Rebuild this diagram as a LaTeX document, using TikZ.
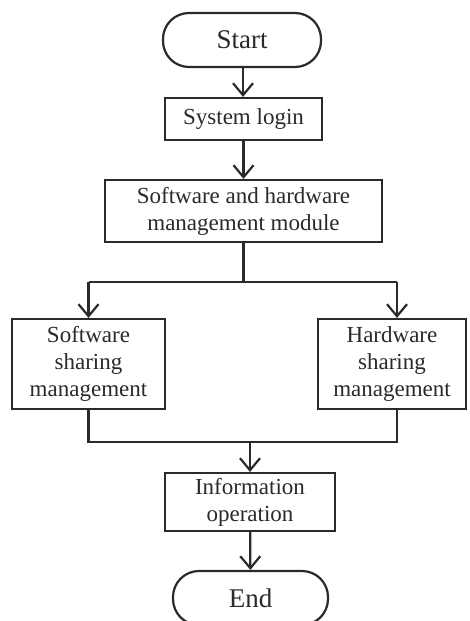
\documentclass[tikz,border=0pt]{standalone}
\usepackage{fontspec}
\setmainfont{Liberation Serif}
\usetikzlibrary{arrows.meta}
\definecolor{ink}{HTML}{2A2A2A}
\tikzset{
  base/.style={draw=ink, line width=2.2pt, text=ink, inner sep=0pt, align=center,
    font=\fontsize{23}{27}\selectfont},
  term/.style={base, rounded corners=26pt, font=\fontsize{27}{30}\selectfont},
  box/.style={base},
  conn/.style={draw=ink, line width=2.2pt},
  arr/.style={conn, -{Straight Barb[length=12pt,width=20pt,line width=2.2pt]}}
}
\begin{document}
\begin{tikzpicture}[x=1pt,y=-1pt]
\clip (0,0) rectangle (469,621);
\fill[white] (0,0) rectangle (469,621);
\node[term, minimum width=158pt, minimum height=54pt] (start) at (242,40) {Start};
\node[box, minimum width=157pt, minimum height=42pt] (login) at (243.5,119) {System login};
\node[box, minimum width=277pt, minimum height=62pt] (mgmt) at (243.5,211) {Software and hardware\\management module};
\node[box, minimum width=153pt, minimum height=90pt] (soft) at (88.5,364) {Software\\sharing\\management};
\node[box, minimum width=148pt, minimum height=90pt] (hard) at (392,364) {Hardware\\sharing\\management};
\node[box, minimum width=170pt, minimum height=58pt] (info) at (250,502) {Information\\operation};
\node[term, minimum width=155pt, minimum height=54pt] (end) at (250.5,598) {End};

\coordinate (split) at (243.5,282);
\coordinate (sl) at (88.5,282);
\coordinate (sr) at (397,282);
\coordinate (ml) at (88.5,442);
\coordinate (mr) at (397,442);
\coordinate (mc) at (250,442);

\draw[arr] (start.south -| 243,0) -- (login.north -| 243,0);
\draw[arr] (login) -- (mgmt);
\draw[conn] (mgmt.south -| split) -- (split);
\draw[conn] (sl) -- (sr);
\draw[arr] (sl) -- (soft.north);
\draw[arr] (sr) -- (hard.north -| sr);
\draw[conn] (soft.south) -- (ml) -- (mr) -- (hard.south -| mr);
\draw[arr] (mc) -- (info.north);
\draw[arr] (info) -- (end);
\end{tikzpicture}
\end{document}
